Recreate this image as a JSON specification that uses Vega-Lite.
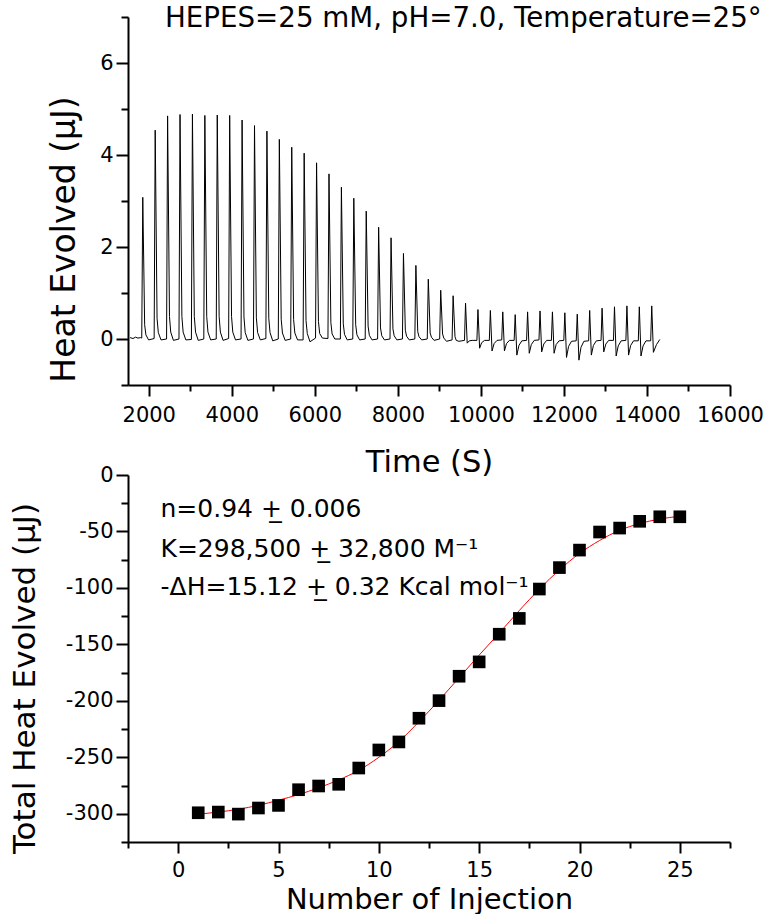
{
  "$schema": "https://vega.github.io/schema/vega-lite/v6.json",
  "padding": {"left": 8, "top": 5, "right": 0, "bottom": 0},
  "bounds": "flush",
  "spacing": 90,
  "config": {
    "view": {"stroke": null},
    "font": "DejaVu Sans",
    "axis": {"domainColor": "black", "domainWidth": 2, "tickColor": "black", "tickWidth": 2, "labelColor": "black", "labelFontSize": 21, "labelFlush": false, "labelOverlap": false, "labelBound": false, "grid": false, "titleColor": "black", "titleFontWeight": "normal", "titleFontSize": 29},
    "axisX": {"tickSize": 11, "labelPadding": 8},
    "axisY": {"tickSize": 12, "labelPadding": 3}
  },
  "datasets": {
    "trace": [
      {"t": 1550, "q": 0.03}, {"t": 1620, "q": 0.01}, {"t": 1680, "q": 0.04}, {"t": 1740, "q": 0.02}, {"t": 1800, "q": 0.03},
      {"t": 1831, "q": 0.02}, {"t": 1856, "q": 3.08}, {"t": 1901, "q": 0.31}, {"t": 1931, "q": 0.09}, {"t": 1996, "q": -0.02},
      {"t": 2130, "q": 0.01}, {"t": 2155, "q": 4.54}, {"t": 2200, "q": 0.45}, {"t": 2230, "q": 0.14}, {"t": 2295, "q": -0.02},
      {"t": 2429, "q": 0.0}, {"t": 2454, "q": 4.85}, {"t": 2499, "q": 0.49}, {"t": 2529, "q": 0.15}, {"t": 2594, "q": -0.03},
      {"t": 2728, "q": 0.0}, {"t": 2753, "q": 4.88}, {"t": 2798, "q": 0.49}, {"t": 2828, "q": 0.15}, {"t": 2893, "q": -0.02},
      {"t": 3027, "q": -0.01}, {"t": 3052, "q": 4.89}, {"t": 3097, "q": 0.49}, {"t": 3127, "q": 0.15}, {"t": 3192, "q": -0.03},
      {"t": 3326, "q": 0.0}, {"t": 3351, "q": 4.86}, {"t": 3396, "q": 0.49}, {"t": 3426, "q": 0.15}, {"t": 3491, "q": -0.02},
      {"t": 3625, "q": 0.0}, {"t": 3650, "q": 4.87}, {"t": 3695, "q": 0.49}, {"t": 3725, "q": 0.15}, {"t": 3790, "q": -0.03},
      {"t": 3924, "q": 0.01}, {"t": 3949, "q": 4.86}, {"t": 3994, "q": 0.49}, {"t": 4024, "q": 0.15}, {"t": 4089, "q": -0.02},
      {"t": 4223, "q": 0.0}, {"t": 4248, "q": 4.76}, {"t": 4293, "q": 0.48}, {"t": 4323, "q": 0.14}, {"t": 4388, "q": -0.03},
      {"t": 4522, "q": 0.0}, {"t": 4547, "q": 4.64}, {"t": 4592, "q": 0.46}, {"t": 4622, "q": 0.14}, {"t": 4687, "q": -0.02},
      {"t": 4821, "q": 0.01}, {"t": 4846, "q": 4.52}, {"t": 4891, "q": 0.45}, {"t": 4921, "q": 0.14}, {"t": 4986, "q": -0.04},
      {"t": 5120, "q": 0.0}, {"t": 5145, "q": 4.34}, {"t": 5190, "q": 0.43}, {"t": 5220, "q": 0.13}, {"t": 5285, "q": -0.03},
      {"t": 5419, "q": 0.0}, {"t": 5444, "q": 4.17}, {"t": 5489, "q": 0.42}, {"t": 5519, "q": 0.13}, {"t": 5584, "q": -0.02},
      {"t": 5718, "q": -0.02}, {"t": 5743, "q": 4.04}, {"t": 5788, "q": 0.4}, {"t": 5818, "q": 0.12}, {"t": 5883, "q": -0.06},
      {"t": 6017, "q": 0.02}, {"t": 6042, "q": 3.83}, {"t": 6087, "q": 0.38}, {"t": 6117, "q": 0.12}, {"t": 6182, "q": 0.02},
      {"t": 6316, "q": 0.01}, {"t": 6341, "q": 3.59}, {"t": 6386, "q": 0.36}, {"t": 6416, "q": 0.11}, {"t": 6481, "q": 0.0},
      {"t": 6615, "q": 0.0}, {"t": 6640, "q": 3.30}, {"t": 6685, "q": 0.33}, {"t": 6715, "q": 0.1}, {"t": 6780, "q": -0.02},
      {"t": 6914, "q": 0.0}, {"t": 6939, "q": 3.06}, {"t": 6984, "q": 0.31}, {"t": 7014, "q": 0.09}, {"t": 7079, "q": -0.02},
      {"t": 7213, "q": 0.0}, {"t": 7238, "q": 2.78}, {"t": 7283, "q": 0.28}, {"t": 7313, "q": 0.08}, {"t": 7378, "q": -0.02},
      {"t": 7512, "q": 0.0}, {"t": 7537, "q": 2.43}, {"t": 7582, "q": 0.24}, {"t": 7612, "q": 0.07}, {"t": 7677, "q": -0.02},
      {"t": 7811, "q": 0.0}, {"t": 7836, "q": 2.20}, {"t": 7881, "q": 0.22}, {"t": 7911, "q": 0.07}, {"t": 7976, "q": -0.02},
      {"t": 8110, "q": 0.0}, {"t": 8135, "q": 1.86}, {"t": 8180, "q": 0.19}, {"t": 8210, "q": 0.06}, {"t": 8275, "q": -0.02},
      {"t": 8409, "q": 0.0}, {"t": 8434, "q": 1.60}, {"t": 8479, "q": 0.16}, {"t": 8509, "q": 0.05}, {"t": 8574, "q": -0.02},
      {"t": 8708, "q": 0.0}, {"t": 8733, "q": 1.30}, {"t": 8778, "q": 0.13}, {"t": 8808, "q": 0.04}, {"t": 8873, "q": -0.03},
      {"t": 9007, "q": 0.0}, {"t": 9032, "q": 1.06}, {"t": 9077, "q": 0.11}, {"t": 9107, "q": 0.02}, {"t": 9172, "q": -0.05},
      {"t": 9306, "q": -0.02}, {"t": 9331, "q": 0.94}, {"t": 9376, "q": 0.05}, {"t": 9406, "q": -0.03}, {"t": 9471, "q": -0.05},
      {"t": 9605, "q": -0.03}, {"t": 9630, "q": 0.78}, {"t": 9670, "q": -0.09}, {"t": 9720, "q": -0.04}, {"t": 9790, "q": -0.03},
      {"t": 9904, "q": -0.03}, {"t": 9929, "q": 0.64}, {"t": 9969, "q": -0.2}, {"t": 10019, "q": -0.08}, {"t": 10089, "q": -0.03},
      {"t": 10203, "q": -0.03}, {"t": 10228, "q": 0.62}, {"t": 10268, "q": -0.26}, {"t": 10318, "q": -0.1}, {"t": 10388, "q": -0.03},
      {"t": 10502, "q": -0.02}, {"t": 10527, "q": 0.59}, {"t": 10567, "q": -0.26}, {"t": 10617, "q": -0.1}, {"t": 10687, "q": -0.03},
      {"t": 10801, "q": -0.03}, {"t": 10826, "q": 0.53}, {"t": 10866, "q": -0.35}, {"t": 10916, "q": -0.14}, {"t": 10986, "q": -0.04},
      {"t": 11100, "q": -0.03}, {"t": 11125, "q": 0.59}, {"t": 11165, "q": -0.31}, {"t": 11215, "q": -0.12}, {"t": 11285, "q": -0.03},
      {"t": 11399, "q": -0.02}, {"t": 11424, "q": 0.61}, {"t": 11464, "q": -0.28}, {"t": 11514, "q": -0.11}, {"t": 11584, "q": -0.03},
      {"t": 11698, "q": -0.03}, {"t": 11723, "q": 0.59}, {"t": 11763, "q": -0.31}, {"t": 11813, "q": -0.12}, {"t": 11883, "q": -0.04},
      {"t": 11997, "q": -0.03}, {"t": 12022, "q": 0.57}, {"t": 12062, "q": -0.4}, {"t": 12112, "q": -0.16}, {"t": 12182, "q": -0.05},
      {"t": 12296, "q": -0.04}, {"t": 12321, "q": 0.54}, {"t": 12361, "q": -0.46}, {"t": 12411, "q": -0.18}, {"t": 12481, "q": -0.05},
      {"t": 12595, "q": -0.04}, {"t": 12620, "q": 0.62}, {"t": 12660, "q": -0.35}, {"t": 12710, "q": -0.14}, {"t": 12780, "q": -0.04},
      {"t": 12894, "q": -0.03}, {"t": 12919, "q": 0.67}, {"t": 12959, "q": -0.28}, {"t": 13009, "q": -0.11}, {"t": 13079, "q": -0.03},
      {"t": 13193, "q": -0.03}, {"t": 13218, "q": 0.70}, {"t": 13258, "q": -0.37}, {"t": 13308, "q": -0.15}, {"t": 13378, "q": -0.04},
      {"t": 13492, "q": -0.03}, {"t": 13517, "q": 0.72}, {"t": 13557, "q": -0.35}, {"t": 13607, "q": -0.14}, {"t": 13677, "q": -0.04},
      {"t": 13791, "q": -0.04}, {"t": 13816, "q": 0.70}, {"t": 13856, "q": -0.37}, {"t": 13906, "q": -0.15}, {"t": 13976, "q": -0.04},
      {"t": 14090, "q": -0.04}, {"t": 14115, "q": 0.72}, {"t": 14155, "q": -0.29}, {"t": 14230, "q": -0.12}, {"t": 14310, "q": -0.01}
    ],
    "pts": [
      {"n": 1, "q": -299.1}, {"n": 2, "q": -298.5}, {"n": 3, "q": -300.3}, {"n": 4, "q": -294.9}, {"n": 5, "q": -292.6},
      {"n": 6, "q": -278.7}, {"n": 7, "q": -275.4}, {"n": 8, "q": -273.9}, {"n": 9, "q": -259.5}, {"n": 10, "q": -243.5},
      {"n": 11, "q": -236.4}, {"n": 12, "q": -215.4}, {"n": 13, "q": -199.8}, {"n": 14, "q": -178.2}, {"n": 15, "q": -165.5},
      {"n": 16, "q": -141}, {"n": 17, "q": -127}, {"n": 18, "q": -101}, {"n": 19, "q": -82}, {"n": 20, "q": -66.5},
      {"n": 21, "q": -50.5}, {"n": 22, "q": -47}, {"n": 23, "q": -41}, {"n": 24, "q": -37}, {"n": 25, "q": -37}
    ],
    "fit": [
      {"n": 1, "q": -300.4}, {"n": 2, "q": -298.5}, {"n": 3, "q": -296}, {"n": 4, "q": -292.5}, {"n": 5, "q": -288},
      {"n": 6, "q": -283}, {"n": 7, "q": -277}, {"n": 8, "q": -270}, {"n": 9, "q": -261.5}, {"n": 10, "q": -250},
      {"n": 11, "q": -236}, {"n": 12, "q": -218.5}, {"n": 13, "q": -199.5}, {"n": 14, "q": -179.5}, {"n": 15, "q": -159.5},
      {"n": 16, "q": -140}, {"n": 17, "q": -120}, {"n": 18, "q": -101}, {"n": 19, "q": -84}, {"n": 20, "q": -69.5},
      {"n": 21, "q": -58}, {"n": 22, "q": -49}, {"n": 23, "q": -43}, {"n": 24, "q": -39}, {"n": 25, "q": -36.5}
    ]
  },
  "vconcat": [
    {
      "width": 602,
      "height": 368,
      "layer": [
        {
          "data": {"name": "trace"},
          "mark": {"type": "line", "color": "black", "strokeWidth": 1},
          "encoding": {
            "x": {"field": "t", "type": "quantitative", "scale": {"domain": [1500, 16000], "nice": false, "zero": false},
                  "axis": {"orient": "bottom", "values": [2000, 4000, 6000, 8000, 10000, 12000, 14000, 16000], "format": "d", "title": "Time (S)", "titleFontSize": 30.5, "titleY": 86, "titleBaseline": "alphabetic"}},
            "y": {"field": "q", "type": "quantitative", "scale": {"domain": [-1, 7], "nice": false, "zero": false},
                  "axis": {"orient": "left", "values": [0, 2, 4, 6], "format": "d", "title": "Heat Evolved (μJ)", "titleFontSize": 33, "titleX": -54, "titleY": 222, "titleAlign": "center", "titleBaseline": "alphabetic", "titleAngle": 270}}
          }
        },
        {
          "data": {"name": "trace"},
          "mark": {"type": "line", "strokeOpacity": 0},
          "encoding": {
            "x": {"field": "t", "type": "quantitative", "axis": {"orient": "bottom", "values": [3000, 5000, 7000, 9000, 11000, 13000, 15000], "labels": false, "domain": false, "tickSize": 6, "title": null}},
            "y": {"field": "q", "type": "quantitative", "axis": {"orient": "left", "values": [-1, 1, 3, 5, 7], "labels": false, "domain": false, "tickSize": 7, "title": null}}
          }
        },
        {
          "data": {"values": [{}]},
          "mark": {"type": "text", "align": "left", "baseline": "alphabetic", "fontSize": 27.7, "color": "black", "limit": 604, "ellipsis": "°"},
          "encoding": {
            "x": {"datum": 2392, "type": "quantitative", "axis": null},
            "y": {"datum": 6.78, "type": "quantitative", "axis": null},
            "text": {"value": "HEPES=25 mM, pH=7.0, Temperature=25°C"}
          }
        }
      ],
      "resolve": {"axis": {"x": "independent", "y": "independent"}}
    },
    {
      "width": 602,
      "height": 367,
      "layer": [
        {
          "data": {"name": "fit"},
          "mark": {"type": "line", "color": "#ff0000", "strokeWidth": 1, "interpolate": "monotone"},
          "encoding": {
            "x": {"field": "n", "type": "quantitative", "scale": {"domain": [-2.5, 27.5], "nice": false, "zero": false},
                  "axis": {"orient": "bottom", "values": [0, 5, 10, 15, 20, 25], "format": "d", "labelPadding": 6, "title": "Number of Injection", "titleY": 66, "titleBaseline": "alphabetic"}},
            "y": {"field": "q", "type": "quantitative", "scale": {"domain": [-325, 0], "nice": false, "zero": false},
                  "axis": {"orient": "left", "values": [0, -50, -100, -150, -200, -250, -300], "format": "d", "labelExpr": "replace(datum.label, '−', '-')", "title": "Total Heat Evolved (μJ)", "titleFontSize": 31, "titleX": -94, "titleY": 203, "titleAlign": "center", "titleBaseline": "alphabetic", "titleAngle": 270}}
          }
        },
        {
          "data": {"name": "pts"},
          "mark": {"type": "point", "shape": "square", "filled": true, "size": 160, "color": "black", "opacity": 1},
          "encoding": {
            "x": {"field": "n", "type": "quantitative", "axis": {"orient": "bottom", "values": [-2.5, 2.5, 7.5, 12.5, 17.5, 22.5, 27.5], "labels": false, "domain": false, "tickSize": 6, "title": null}},
            "y": {"field": "q", "type": "quantitative", "axis": {"orient": "left", "values": [-25, -75, -125, -175, -225, -275, -325], "labels": false, "domain": false, "tickSize": 7, "title": null}}
          }
        },
        {
          "data": {"values": [{}]},
          "mark": {"type": "text", "align": "left", "baseline": "alphabetic", "fontSize": 25, "color": "black"},
          "encoding": {
            "x": {"datum": -0.88, "type": "quantitative", "axis": null},
            "y": {"datum": -37, "type": "quantitative", "axis": null},
            "text": {"value": "n=0.94 +̲ 0.006"}
          }
        },
        {
          "data": {"values": [{}]},
          "mark": {"type": "text", "align": "left", "baseline": "alphabetic", "fontSize": 25, "color": "black"},
          "encoding": {
            "x": {"datum": -0.88, "type": "quantitative", "axis": null},
            "y": {"datum": -72.4, "type": "quantitative", "axis": null},
            "text": {"value": "K=298,500 +̲ 32,800 M⁻¹"}
          }
        },
        {
          "data": {"values": [{}]},
          "mark": {"type": "text", "align": "left", "baseline": "alphabetic", "fontSize": 25, "color": "black"},
          "encoding": {
            "x": {"datum": -0.88, "type": "quantitative", "axis": null},
            "y": {"datum": -106.4, "type": "quantitative", "axis": null},
            "text": {"value": "-ΔH=15.12 +̲ 0.32 Kcal mol⁻¹"}
          }
        }
      ],
      "resolve": {"axis": {"x": "independent", "y": "independent"}}
    }
  ]
}
